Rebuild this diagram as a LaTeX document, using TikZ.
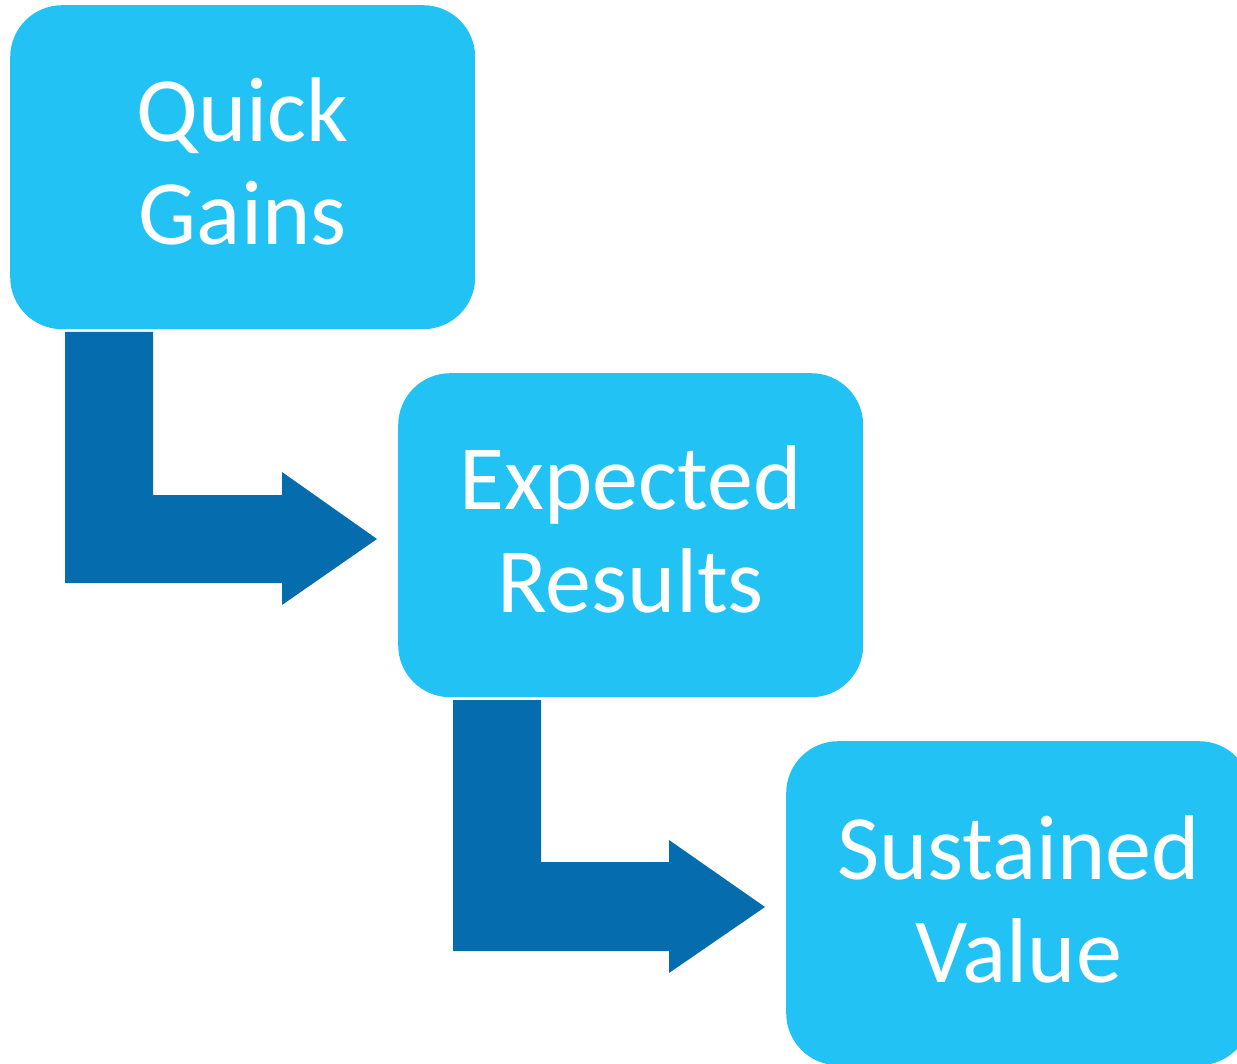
\documentclass[tikz,border=0pt]{standalone}
\usepackage{fontspec}
\setmainfont{Carlito}
\definecolor{boxblue}{HTML}{22C3F4}
\definecolor{arrowblue}{HTML}{056DAE}
\begin{document}
\begin{tikzpicture}[x=1pt,y=-1pt,
  stage/.style={rectangle, rounded corners=52pt, fill=boxblue, draw=none,
    minimum width=465pt, minimum height=324pt, anchor=north west, inner sep=0pt},
  stagetext/.style={text=white, align=center, font=\fontsize{92}{103}\selectfont, inner sep=0pt},
  bentarrow/.style={fill=arrowblue, draw=none}]
\useasboundingbox (0,0) rectangle (1237,1064);
\clip (0,0) rectangle (1237,1064);
\fill[white] (0,0) rectangle (1237,1064);
\node[stage] (quick) at (10,5) {};
\node[stage] (expected) at (398,373) {};
\node[stage] (sustained) at (786,741) {};
\node[stagetext] (quicktext) at ([yshift=6pt]quick.center) {Quick\\Gains};
\node[stagetext] (expectedtext) at ([yshift=6pt]expected.center) {Expected\\Results};
\node[stagetext] (sustainedtext) at ([yshift=4pt]sustained.center) {Sustained\\Value};
\fill[bentarrow] (65,332) -- (153,332) -- (153,495) -- (282,495) -- (282,472)
  -- (377,539) -- (282,605) -- (282,583) -- (65,583) -- cycle;
\fill[bentarrow] (453,700) -- (541,700) -- (541,862) -- (669,862) -- (669,840)
  -- (765,907) -- (669,973) -- (669,951) -- (453,951) -- cycle;
\end{tikzpicture}
\end{document}
